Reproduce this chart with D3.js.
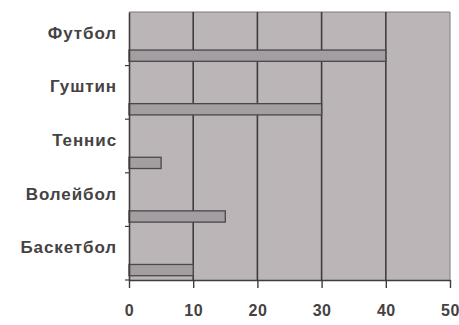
<!DOCTYPE html>
<html><head><meta charset="utf-8">
<script src="https://cdn.jsdelivr.net/npm/d3@7"></script>
<style>html,body{margin:0;padding:0;background:#fff;}svg{display:block;}</style>
</head><body>
<svg id="c" width="459" height="325"></svg>
<script>
const categories = ["Футбол", "Гуштин", "Теннис", "Волейбол", "Баскетбол"];
const values = [40, 30, 5, 15, 10];
const xTicks = [0, 10, 20, 30, 40, 50];

const svg = d3.select("#c");
const m = {left: 129, right: 9, top: 12, bottom: 45};
const W = 459, H = 325;
const x = d3.scaleLinear().domain([0, 50]).range([m.left, W - m.right]);
const y = d3.scaleBand().domain(categories).range([m.top, H - m.bottom]).padding(0);
const bw = y.bandwidth();

// plot background
svg.append("rect").attr("x", x(0)).attr("y", m.top)
  .attr("width", x(50) - x(0)).attr("height", H - m.bottom - m.top)
  .attr("fill", "#bbb5b8");

// top/right border (lighter)
svg.append("line").attr("x1", x(0)).attr("x2", x(50)).attr("y1", m.top).attr("y2", m.top)
  .attr("stroke", "#7d797b").attr("stroke-width", 1.2);
svg.append("line").attr("x1", x(50)).attr("x2", x(50)).attr("y1", m.top).attr("y2", H - m.bottom)
  .attr("stroke", "#8e8a8c").attr("stroke-width", 1.2);

// gridlines
svg.append("g").selectAll("line").data(xTicks.slice(1, -1)).join("line")
  .attr("x1", d => x(d)).attr("x2", d => x(d))
  .attr("y1", m.top).attr("y2", H - m.bottom)
  .attr("stroke", "#3f3c3e").attr("stroke-width", 1.6);

// bars
svg.append("g").selectAll("rect").data(categories).join("rect")
  .attr("x", x(0))
  .attr("y", d => y(d) + bw * 0.71)
  .attr("width", (d, i) => x(values[i]) - x(0))
  .attr("height", bw * 0.21)
  .attr("fill", "#a29ea1")
  .attr("stroke", "#4a4748").attr("stroke-width", 1.3);

// x axis
const xAxis = d3.axisBottom(x).tickValues(xTicks).tickSize(8).tickSizeOuter(0).tickPadding(17);
const gx = svg.append("g").attr("transform", `translate(0,${H - m.bottom})`).call(xAxis);
gx.select(".domain").attr("stroke", "#3f3c3e").attr("stroke-width", 1.6);
gx.selectAll(".tick line").attr("stroke", "#3f3c3e").attr("stroke-width", 1.4);
gx.selectAll(".tick text").attr("font-family", "Liberation Sans, Arial, sans-serif")
  .attr("font-size", 16).attr("font-weight", "bold").attr("fill", "#454244")
  .attr("letter-spacing", "0.5px");

// y axis
const yAxis = d3.axisLeft(y).tickSize(0).tickPadding(12);
const gy = svg.append("g").attr("transform", `translate(${x(0)},0)`).call(yAxis);
gy.select(".domain").attr("stroke", "#3f3c3e").attr("stroke-width", 1.6);
gy.selectAll(".tick text").attr("font-family", "Liberation Sans, Arial, sans-serif")
  .attr("font-size", 17).attr("font-weight", "bold").attr("fill", "#454244")
  .attr("letter-spacing", "0.9px")
  .attr("dy", "0.0em");
// small category separator ticks on the left
svg.append("g").selectAll("line").data(categories.slice(1).concat(["__end"])).join("line")
  .attr("x1", x(0) - 4).attr("x2", x(0))
  .attr("y1", d => d === "__end" ? H - m.bottom : y(d))
  .attr("y2", d => d === "__end" ? H - m.bottom : y(d))
  .attr("stroke", "#3f3c3e").attr("stroke-width", 1.2);
</script>
</body></html>
